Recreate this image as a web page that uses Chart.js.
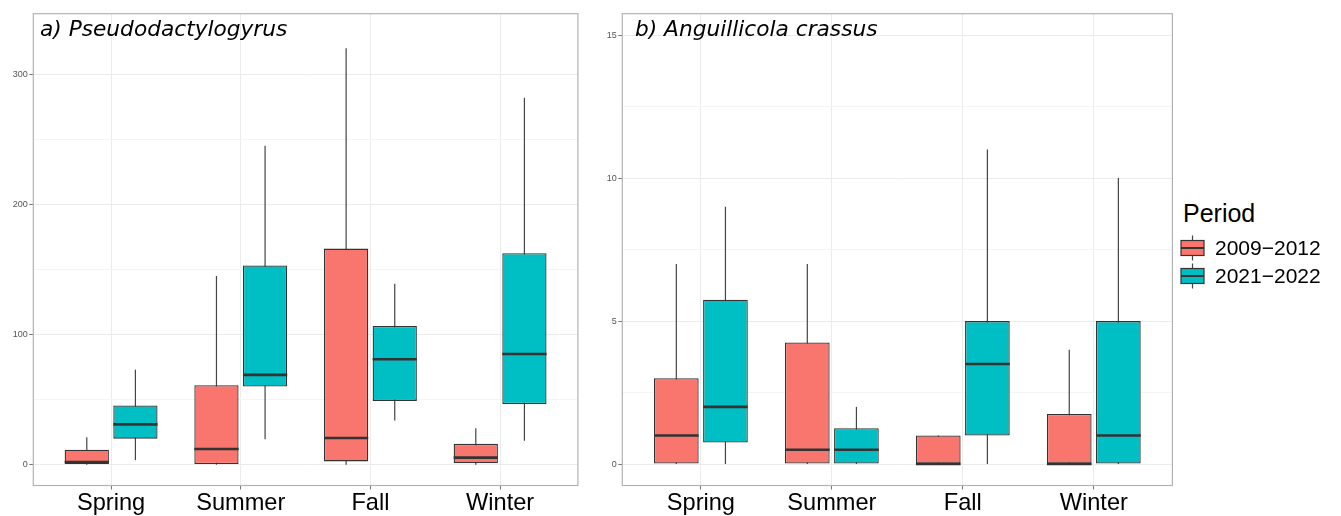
<!DOCTYPE html>
<html><head><meta charset="utf-8">
<script src="https://cdn.jsdelivr.net/npm/chart.js@4.4.1/dist/chart.umd.min.js"></script>
<style>
html,body{margin:0;padding:0;background:#fff;width:1341px;height:516px;overflow:hidden;}
#wrap{position:relative;width:1341px;height:516px;}
.cv{position:absolute;top:0;}
.ttl{position:absolute;font-family:'DejaVu Sans',Verdana,sans-serif;font-style:italic;font-size:21.7px;line-height:22px;color:#000;white-space:nowrap;}
.leg{position:absolute;font-family:'Liberation Sans',Arial,sans-serif;color:#000;white-space:nowrap;line-height:1;}
</style></head>
<body><div id="wrap">
<div class="cv" style="left:0;width:600px;height:516px"><canvas id="ca" width="600" height="516"></canvas></div>
<div class="cv" style="left:600px;width:580px;height:516px"><canvas id="cb" width="580" height="516"></canvas></div>
<div class="ttl" style="left:40px;top:18px">a) Pseudodactylogyrus</div>
<div class="ttl" style="left:635px;top:18px">b) Anguillicola crassus</div>
<div id="legend"></div>
</div>
<script>
// ---------- data ----------
const seasons = ['Spring', 'Summer', 'Fall', 'Winter'];
const periods = ['2009\u22122012', '2021\u22122022'];
const periodColors = ['#F8766D', '#00BFC4'];

// a) Pseudodactylogyrus
const pseudoOldMin = [0, 0, 0, 0];
const pseudoOldQ1 = [0.5, 0.5, 2.5, 1];
const pseudoOldMed = [2, 12, 20.5, 5.4];
const pseudoOldQ3 = [11.5, 61, 166, 16];
const pseudoOldMax = [21, 145, 320, 28];
const pseudoNewMin = [3.5, 19.5, 34, 18.4];
const pseudoNewQ1 = [20, 60, 49, 46.5];
const pseudoNewMed = [31, 69, 81, 85];
const pseudoNewQ3 = [45.5, 153, 106.5, 162.5];
const pseudoNewMax = [73, 245, 139, 282];
const pseudoMajorTicks = [0, 100, 200, 300];
const pseudoMinorTicks = [50, 150, 250];

// b) Anguillicola crassus
const anguOldMin = [0, 0, 0, 0];
const anguOldQ1 = [0, 0, 0, 0];
const anguOldMed = [1, 0.5, 0, 0];
const anguOldQ3 = [3, 4.25, 1, 1.75];
const anguOldMax = [7, 7, 1, 4];
const anguNewMin = [0, 0, 0, 0];
const anguNewQ1 = [0.75, 0, 1, 0];
const anguNewMed = [2, 0.5, 3.5, 1];
const anguNewQ3 = [5.75, 1.25, 5, 5];
const anguNewMax = [9, 2, 11, 10];
const anguMajorTicks = [0, 5, 10, 15];
const anguMinorTicks = [2.5, 7.5, 12.5];

// ---------- helpers ----------
function boxDataset(label, color, q1, q3, mn, md, mx) {
  return {
    label: label,
    data: q1.map((v, i) => ({ x: i, y: [v, q3[i]] })),
    whMin: mn, whMed: md, whMax: mx,
    backgroundColor: color,
    borderColor: '#333333',
    borderWidth: 1.3,
    borderSkipped: false,
    categoryPercentage: 0.75,
    barPercentage: 0.91
  };
}

const boxPlugin = {
  id: 'boxParts',
  beforeDatasetsDraw(chart) {
    const ctx = chart.ctx, ys = chart.scales.y;
    ctx.save();
    ctx.strokeStyle = '#444444';
    ctx.lineWidth = 1.2;
    chart.data.datasets.forEach((ds, di) => {
      chart.getDatasetMeta(di).data.forEach((el, i) => {
        ctx.beginPath();
        ctx.moveTo(el.x, ys.getPixelForValue(ds.whMin[i]));
        ctx.lineTo(el.x, ys.getPixelForValue(ds.whMax[i]));
        ctx.stroke();
      });
    });
    ctx.restore();
  },
  afterDatasetsDraw(chart) {
    const ctx = chart.ctx, ys = chart.scales.y, a = chart.chartArea;
    ctx.save();
    ctx.strokeStyle = '#333333';
    ctx.lineWidth = 2.6;
    chart.data.datasets.forEach((ds, di) => {
      chart.getDatasetMeta(di).data.forEach((el, i) => {
        const y = ys.getPixelForValue(ds.whMed[i]);
        ctx.beginPath();
        ctx.moveTo(el.x - el.width / 2, y);
        ctx.lineTo(el.x + el.width / 2, y);
        ctx.stroke();
      });
    });
    ctx.strokeStyle = '#b3b3b3';
    ctx.lineWidth = 1.2;
    ctx.strokeRect(a.left, a.top, a.right - a.left, a.bottom - a.top);
    ctx.restore();
  }
};

function makeChart(id, datasets, yMin, yMax, major, minor, leftW, rightPad) {
  const allTicks = major.concat(minor).sort((p, q) => p - q);
  return new Chart(document.getElementById(id), {
    type: 'bar',
    data: { datasets: datasets },
    plugins: [boxPlugin],
    options: {
      responsive: false,
      animation: false,
      layout: { padding: { left: 0, top: 13.7, right: rightPad, bottom: 0 } },
      plugins: { legend: { display: false }, tooltip: { enabled: false } },
      scales: {
        x: {
          type: 'linear',
          min: -0.6, max: seasons.length - 0.4,
          offset: false,
          afterBuildTicks: s => { s.ticks = seasons.map((_, i) => ({ value: i })); },
          grid: { offset: false, color: '#ebebeb', lineWidth: 1, tickLength: 4, tickColor: '#777777' },
          border: { display: false },
          ticks: {
            color: '#000', font: { family: "'Liberation Sans', Arial, sans-serif", size: 23.6 },
            padding: 0, maxRotation: 0, autoSkip: false,
            callback: v => seasons[v]
          },
          afterFit: s => { s.height = 516 - 485.5; }
        },
        y: {
          min: yMin, max: yMax,
          afterBuildTicks: s => { s.ticks = allTicks.map(v => ({ value: v })); },
          grid: {
            color: c => (c.tick && major.includes(c.tick.value)) ? '#ebebeb' : '#f4f4f4',
            tickColor: c => (c.tick && major.includes(c.tick.value)) ? '#777777' : 'rgba(0,0,0,0)',
            lineWidth: 1, tickLength: 4
          },
          border: { display: false },
          ticks: {
            color: '#555555', padding: 1.5,
            font: { family: "'Liberation Sans', Arial, sans-serif", size: 9 },
            callback: v => major.includes(v) ? String(v) : ''
          },
          afterFit: s => { s.width = leftW; }
        }
      }
    }
  });
}

makeChart('ca', [
  boxDataset(periods[0], periodColors[0], pseudoOldQ1, pseudoOldQ3, pseudoOldMin, pseudoOldMed, pseudoOldMax),
  boxDataset(periods[1], periodColors[1], pseudoNewQ1, pseudoNewQ3, pseudoNewMin, pseudoNewMed, pseudoNewMax)
], -16, 346.5, pseudoMajorTicks, pseudoMinorTicks, 33.3, 600 - 577.9);

makeChart('cb', [
  boxDataset(periods[0], periodColors[0], anguOldQ1, anguOldQ3, anguOldMin, anguOldMed, anguOldMax),
  boxDataset(periods[1], periodColors[1], anguNewQ1, anguNewQ3, anguNewMin, anguNewMed, anguNewMax)
], -0.75, 15.75, anguMajorTicks, anguMinorTicks, 22.3, 580 - 572.4);

// ---------- legend ----------
const leg = document.getElementById('legend');
let html = '<div class="leg" style="left:1183px;top:201px;font-size:25px">Period</div>';
const centers = [248.3, 275.8];
periods.forEach((p, i) => {
  const cy = centers[i];
  html += '<svg style="position:absolute;left:1178px;top:' + (cy - 14) + 'px" width="30" height="28">' +
    '<line x1="14.5" y1="1.5" x2="14.5" y2="26.5" stroke="#444" stroke-width="1.2"/>' +
    '<rect x="3" y="6.5" width="23" height="15" fill="' + periodColors[i] + '" stroke="#333" stroke-width="1.2"/>' +
    '<line x1="3" y1="14" x2="26" y2="14" stroke="#333" stroke-width="2"/></svg>';
  html += '<div class="leg" style="left:1215px;top:' + (cy - 11.3) + 'px;font-size:21px">' + p + '</div>';
});
leg.innerHTML = html;
</script>
</body></html>
